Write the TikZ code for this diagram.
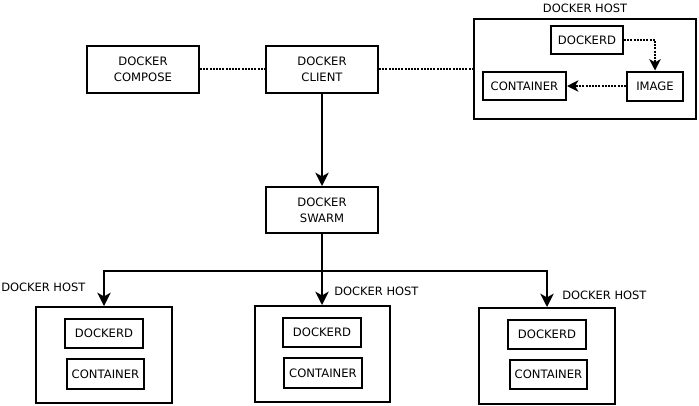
\documentclass[tikz,border=0pt]{standalone}
\usepackage{fontspec}
\setmainfont{DejaVu Sans}
\usetikzlibrary{arrows.meta}
\begin{document}
\begin{tikzpicture}[x=0.75pt,y=-0.75pt,
    box/.style={shape=rectangle,draw,line width=1.5pt,align=center,inner sep=0pt,font=\fontsize{8.7}{11.7}\selectfont},
    lbl/.style={inner sep=0pt,font=\fontsize{8.6}{11.7}\selectfont},
    link/.style={line width=1.5pt,-{Stealth[length=10pt,width=10pt,inset=2.8pt]}},
    dots/.style={line width=1.4pt,dash pattern=on 1.5pt off 0.9pt},
    dotlink/.style={dots,-{Stealth[length=8.5pt,width=8.5pt,inset=2.4pt]}}]
    \useasboundingbox (0,0) rectangle (699,405);
    \node[box,minimum width=84pt,minimum height=35.25pt] (compose) at (143,69) {DOCKER\\COMPOSE};
    \node[box,minimum width=84pt,minimum height=35.25pt] (client) at (322,69) {DOCKER\\CLIENT};
    \node[box,minimum width=84pt,minimum height=34.5pt] (swarm) at (322,210) {DOCKER\\SWARM};
    \node[box,minimum width=166.5pt,minimum height=75pt] (hostT) at (585,69) {};
    \node[box,minimum width=54pt,minimum height=21pt] (dockerdT) at (587,40) {DOCKERD};
    \node[box,minimum width=42pt,minimum height=21.75pt] (imageT) at (655,86) {IMAGE};
    \node[box,minimum width=62.25pt,minimum height=21pt] (containerT) at (524.5,86) {CONTAINER};
    \node[box,minimum width=102pt,minimum height=72pt] (hostA) at (104,355) {};
    \node[box,minimum width=58.5pt,minimum height=21.75pt] (dockerdA) at (104,333.5) {DOCKERD};
    \node[box,minimum width=57.75pt,minimum height=22.5pt] (containerA) at (105.5,374) {CONTAINER};
    \node[box,minimum width=101.25pt,minimum height=72pt] (hostB) at (322,354) {};
    \node[box,minimum width=58.5pt,minimum height=21.75pt] (dockerdB) at (322,332.5) {DOCKERD};
    \node[box,minimum width=58.5pt,minimum height=22.5pt] (containerB) at (323,373) {CONTAINER};
    \node[box,minimum width=102pt,minimum height=72pt] (hostC) at (547,356) {};
    \node[box,minimum width=58.5pt,minimum height=21.75pt] (dockerdC) at (547,334.5) {DOCKERD};
    \node[box,minimum width=57.75pt,minimum height=21.75pt] (containerC) at (548.5,374.5) {CONTAINER};
    \node[lbl] (lblT) at (585,8) {DOCKER HOST};
    \node[lbl,anchor=west] (lblA) at (1,287) {DOCKER HOST};
    \node[lbl,anchor=west] (lblB) at (334,291) {DOCKER HOST};
    \node[lbl,anchor=west] (lblC) at (562,295) {DOCKER HOST};
    \draw[dots] (compose) to (client);
    \draw[dots] (client.east) to (client.east -| hostT.west);
    \draw[dotlink] (dockerdT.east) -| (imageT.north);
    \draw[dotlink] (imageT.west) to (containerT.east);
    \draw[link] (client) to (swarm);
    \coordinate (split) at (322,271);
    \draw[link] (swarm) to (hostB);
    \draw[link] (swarm.south) to (split) -| (hostA.north);
    \draw[link] (split) -| (hostC.north);
\end{tikzpicture}
\end{document}
